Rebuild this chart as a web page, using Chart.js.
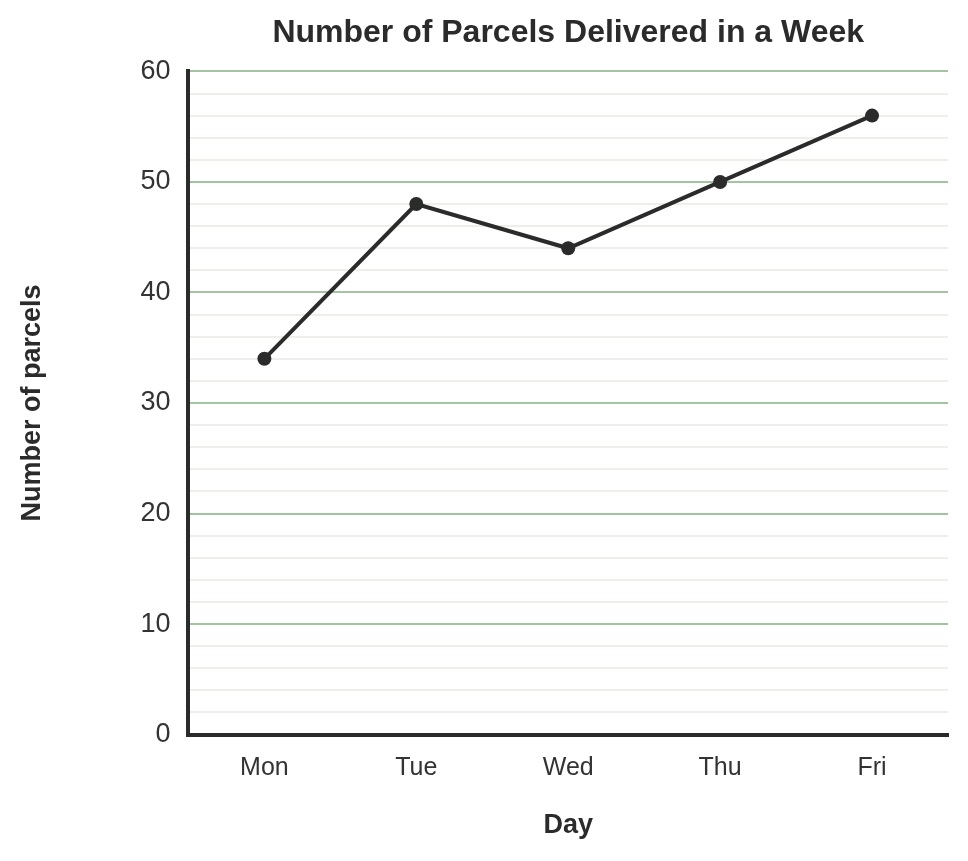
<!DOCTYPE html>
<html>
<head>
<meta charset="utf-8">
<script src="https://cdn.jsdelivr.net/npm/chart.js@4"></script>
<style>
  html, body { margin: 0; padding: 0; background: #fff; }
  #wrap { width: 968px; height: 861px; }
</style>
</head>
<body>
<div id="wrap"><canvas id="parcelChart" width="968" height="861"></canvas></div>
<script>
// Data
const days = ["Mon", "Tue", "Wed", "Thu", "Fri"];
const parcels = [34, 48, 44, 50, 56];
const yMin = 0;
const yMax = 60;
const yStep = 2;        // light lines every 2
const yLabelEvery = 10; // labelled green lines every 10

const ink = "#2b2b2b";
const font = "'Helvetica Neue', Arial, 'Liberation Sans', sans-serif";

const ctx = document.getElementById("parcelChart").getContext("2d");
new Chart(ctx, {
    type: "line",
    data: {
        labels: days,
        datasets: [{
            label: "Parcels",
            data: parcels,
            borderColor: ink,
            backgroundColor: ink,
            borderWidth: 4,
            pointRadius: 7,
            pointHoverRadius: 7,
            pointBackgroundColor: ink,
            pointBorderWidth: 0,
            tension: 0,
            fill: false
        }]
    },
    options: {
        responsive: false,
        animation: false,
        layout: { padding: { top: 14, right: 20, bottom: 19, left: 16 } },
        plugins: {
            legend: { display: false },
            tooltip: { enabled: false },
            title: {
                display: true,
                text: "Number of Parcels Delivered in a Week",
                fullSize: false,
                color: ink,
                font: { family: font, size: 32, weight: "bold" },
                padding: { top: 0, bottom: 19 }
            }
        },
        scales: {
            x: {
                offset: true,
                grid: { display: false, drawTicks: false },
                border: { display: true, color: ink, width: 4 },
                ticks: {
                    color: "#333",
                    font: { family: font, size: 25 },
                    padding: 19
                },
                title: {
                    display: true,
                    text: "Day",
                    color: ink,
                    font: { family: font, size: 27, weight: "bold" },
                    padding: { top: 7, bottom: 0 }
                }
            },
            y: {
                min: yMin,
                max: yMax,
                grid: {
                    drawTicks: false,
                    lineWidth: 2,
                    color: c => (c.tick && c.tick.value % yLabelEvery === 0) ? "#a3c4a0" : "#ebf0ea"
                },
                border: { display: true, color: ink, width: 4 },
                ticks: {
                    stepSize: yStep,
                    autoSkip: false,
                    color: "#333",
                    font: { family: font, size: 27 },
                    padding: 18,
                    callback: v => (v % yLabelEvery === 0 ? v : "")
                },
                title: {
                    display: true,
                    text: "Number of parcels",
                    color: ink,
                    font: { family: font, size: 27, weight: "bold" },
                    padding: { top: 0, bottom: 74 }
                }
            }
        }
    }
});
</script>
</body>
</html>
